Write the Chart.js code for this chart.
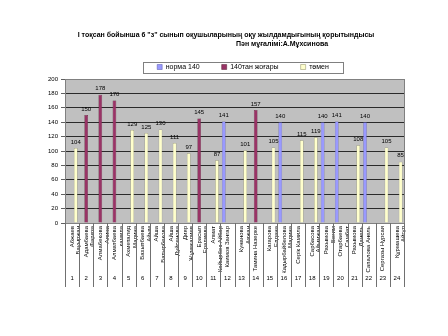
<!DOCTYPE html>
<html><head><meta charset="utf-8">
<script src="https://cdn.jsdelivr.net/npm/chart.js@4/dist/chart.umd.min.js"></script>
<style>html,body{margin:0;padding:0;background:#fff}</style>
</head><body>
<canvas id="c" width="448" height="336"></canvas>
<script>
const titleLine1 = 'І тоқсан бойынша 6 "з" сынып оқушыларының оқу жылдамдығының қорытындысы';
const titleLine2 = 'Пән мұғалімі:А.Мұхсинова';
const seriesNames = ['норма 140', '140тан жоғары', 'төмен'];
const names = [
  ['Абжаев', 'Бауыржан'], ['Адамбаева', 'Фариза'], ['Алмабекова', 'Алина'], ['Алматбаева', 'камила'],
  ['Ахметалид', 'Мадина'], ['Бахытбаева', 'Айым'], ['Айша', 'Батырбекова'], ['Айша', 'Дүйсенова'],
  ['Дияр', 'Жұмағалиев'], ['Ерасыл', 'Ералиева'], ['Алмат', 'Кайырбек Айбар'], ['Каимов Зангар'],
  ['Кунанова', 'Аяжан'], ['Тамина Назерке'], ['Кагарова', 'Елдана'], ['Кадырбайбелова', 'Мадина'],
  ['Серік Камила'], ['Сарбасова', 'Айымжан'], ['Рахымова', 'Бегим'], ['Отарбаева', 'Самбат'],
  ['Рахымова', 'Данель'], ['Сапалова Анель'], ['Сергазы Нұрсая'], ['Құрмашева', 'Айгүл']
];
const numbers = ['1','2','3','4','5','6','7','8','9','10','11','12','13','14','15','16','17','18','19','20','21','22','23','24'];
const norma140 = [null,null,null,null,null,null,null,null,null,null,null,141,null,null,null,140,null,null,140,141,null,140,null,null];
const above140 = [null,150,178,170,null,null,null,null,null,145,null,null,null,157,null,null,null,null,null,null,null,null,null,null];
const below140 = [104,null,null,null,129,125,130,111,97,null,87,null,101,null,105,null,115,119,null,null,108,null,105,85];
const yTicksMax = 200, yTicksStep = 20;

const FONT = 'Liberation Sans, Arial, sans-serif';
const LEGEND_PAD = 22;

const bgPlugin = {
  id: 'bg',
  beforeDraw(chart) {
    const {ctx, chartArea: a} = chart;
    ctx.save();
    ctx.fillStyle = '#fff';
    ctx.fillRect(0, 0, chart.width, chart.height);
    ctx.fillStyle = '#c0c0c0';
    ctx.fillRect(a.left, a.top, a.right - a.left, a.bottom - a.top);
    ctx.restore();
  },
  afterDraw(chart) {
    const {ctx, chartArea: a, scales} = chart;
    ctx.save();
    ctx.strokeStyle = '#808080';
    ctx.lineWidth = 1;
    ctx.strokeRect(a.left + 0.5, a.top + 0.5, a.right - a.left, a.bottom - a.top);
    const x = scales.x, x2 = scales.x2;
    const half = (x.getPixelForValue(1) - x.getPixelForValue(0)) / 2;
    ctx.strokeStyle = '#707070';
    for (let i = 0; i <= numbers.length; i++) {
      const px = Math.round(x.getPixelForValue(i) - half) + 0.5;
      ctx.beginPath();
      ctx.moveTo(px, a.bottom);
      ctx.lineTo(px, x2.bottom);
      ctx.stroke();
    }
    ctx.fillStyle = '#000';
    ctx.textAlign = 'center';
    ctx.textBaseline = 'middle';
    ctx.font = 'bold 7px ' + FONT;
    ctx.fillText(titleLine1, 226, 35);
    ctx.fillText(titleLine2, 282, 44);
    const lg = chart.legend;
    if (lg && lg.legendHitBoxes && lg.legendHitBoxes.length) {
      const hb = lg.legendHitBoxes;
      const l = Math.min(...hb.map(h => h.left)) - 14;
      const r = Math.max(...hb.map(h => h.left + h.width)) + 14;
      const t = Math.min(...hb.map(h => h.top)) - 2;
      const b = Math.max(...hb.map(h => h.top + h.height)) + 2;
      ctx.strokeStyle = '#808080';
      ctx.strokeRect(Math.round(l) + 0.5, Math.round(t) + 0.5, Math.round(r - l), Math.round(b - t));
    }
    ctx.restore();
  },
  afterLayout(chart) {
    const lg = chart.legend;
    if (lg) {
      lg.left += 21; lg.right += 21;
      const want = chart.chartArea.top - 12 - LEGEND_PAD - 3.5;
      const dy = want - lg.top;
      lg.top += dy; lg.bottom += dy;
    }
  }
};

const labelPlugin = {
  id: 'vals',
  afterDatasetsDraw(chart) {
    const {ctx} = chart;
    ctx.save();
    ctx.fillStyle = '#000';
    ctx.font = '6px ' + FONT;
    ctx.textAlign = 'center';
    ctx.textBaseline = 'bottom';
    chart.data.datasets.forEach((ds, di) => {
      const meta = chart.getDatasetMeta(di);
      meta.data.forEach((el, i) => {
        const v = ds.data[i];
        if (v === null || v === undefined) return;
        ctx.fillText(String(v), el.x, el.y - 3);
      });
    });
    ctx.restore();
  }
};

new Chart(document.getElementById('c'), {
  type: 'bar',
  data: {
    labels: names,
    datasets: [
      {label: seriesNames[0], data: norma140, backgroundColor: '#9999ff', borderColor: '#5555aa', borderWidth: 0.5},
      {label: seriesNames[1], data: above140, backgroundColor: '#993366', borderColor: '#552233', borderWidth: 0.5},
      {label: seriesNames[2], data: below140, backgroundColor: '#ffffcc', borderColor: '#8a8a60', borderWidth: 0.5}
    ]
  },
  options: {
    responsive: false,
    animation: false,
    devicePixelRatio: 1,
    datasets: {bar: {categoryPercentage: 0.78, barPercentage: 1, grouped: true}},
    layout: {padding: {left: 40, right: 44, top: 40, bottom: 49}},
    plugins: {
      legend: {
        position: 'top',
        labels: {font: {size: 7, family: FONT}, color: '#000', boxWidth: 5, boxHeight: 5, padding: LEGEND_PAD}
      },
      title: {display: false},
      tooltip: {enabled: false}
    },
    scales: {
      y: {
        min: 0, max: yTicksMax,
        ticks: {stepSize: yTicksStep, font: {size: 6, family: FONT}, color: '#000', padding: 3},
        grid: {color: '#2a2a2a', tickColor: '#606060', tickLength: 4},
        border: {color: '#808080'},
        afterFit(s) { s.width = 25; }
      },
      x: {
        grid: {display: false, drawTicks: false},
        border: {color: '#808080'},
        ticks: {autoSkip: false, maxRotation: 90, minRotation: 90, font: {size: 6, family: FONT, lineHeight: 1.1}, color: '#000', padding: 3},
        afterFit(s) { s.height = 50; }
      },
      x2: {
        type: 'category', labels: numbers, position: 'bottom', offset: true,
        grid: {display: false, drawTicks: false},
        border: {display: false},
        ticks: {autoSkip: false, maxRotation: 0, font: {size: 6, family: FONT}, color: '#000', padding: 2},
        afterFit(s) { s.height = 14; }
      }
    }
  },
  plugins: [bgPlugin, labelPlugin]
});
</script>
</body></html>
